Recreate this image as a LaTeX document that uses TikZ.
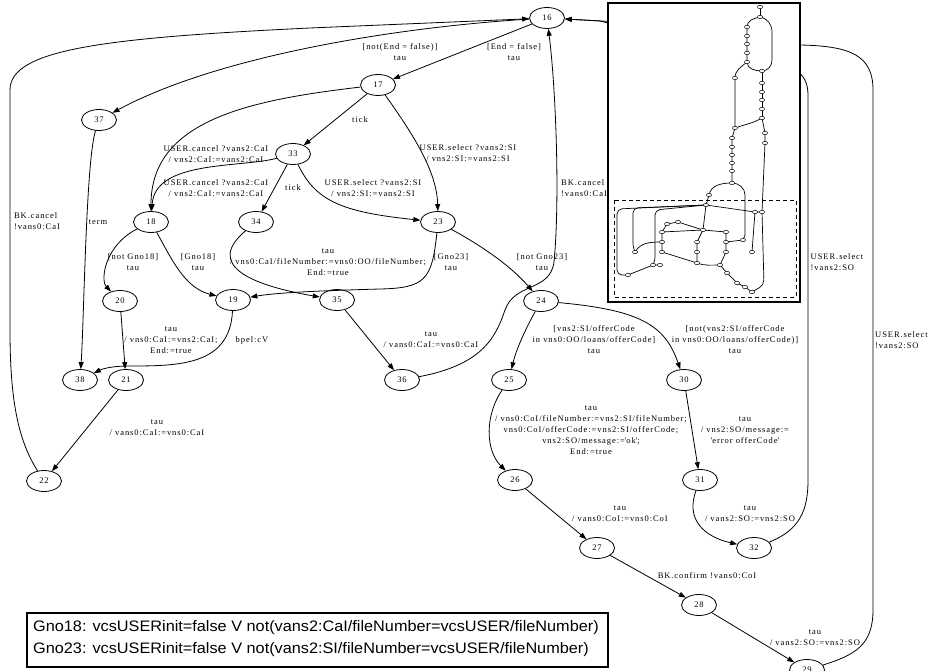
\documentclass[tikz,border=0pt]{standalone}
\usepackage{fontspec}
\setmainfont{Liberation Serif}
\newfontfamily\gfont[LetterSpace=11]{Liberation Serif}
\newfontfamily\lfont[FakeStretch=1.07]{Liberation Sans}
\usetikzlibrary{shapes.geometric,arrows.meta}
\newcommand{\sq}{\textquotesingle}
\begin{document}
\begin{tikzpicture}[x=1pt,y=-1pt,
  st/.style={ellipse,draw,line width=0.8pt,minimum width=35pt,minimum height=21pt,inner sep=0pt,font=\gfont\fontsize{8.5}{10}\selectfont},
  lbl/.style={align=center,inner sep=0pt,font=\gfont\fontsize{8.5}{11}\selectfont},
  lbll/.style={align=left,inner sep=0pt,font=\gfont\fontsize{8.5}{11}\selectfont},
  arr/.style={draw,line width=0.8pt,-{Triangle[length=7pt,width=5pt]}},
  mini/.style={ellipse,draw,line width=0.5pt,minimum width=5pt,minimum height=3.5pt,inner sep=0pt,fill=white},
  mline/.style={line width=0.7pt}
]
\useasboundingbox (0,0) rectangle (928,671);
\fill[white] (0,0) rectangle (928,671);

% states
\node[st] (n16) at (547,18) {16};
\node[st] (n17) at (378,85) {17};
\node[st] (n37) at (99,120) {37};
\node[st] (n33) at (293,154) {33};
\node[st] (n18) at (151,222) {18};
\node[st] (n34) at (256,222) {34};
\node[st] (n23) at (438,222) {23};
\node[st] (n20) at (120,301) {20};
\node[st] (n19) at (233,300) {19};
\node[st] (n35) at (337,300) {35};
\node[st] (n24) at (541,301) {24};
\node[st] (n38) at (80,380) {38};
\node[st] (n21) at (126,380) {21};
\node[st] (n36) at (402,380) {36};
\node[st] (n25) at (509,380) {25};
\node[st] (n30) at (684,380) {30};
\node[st] (n22) at (44,481) {22};
\node[st] (n26) at (515,480) {26};
\node[st] (n31) at (700,480) {31};
\node[st] (n27) at (597,548) {27};
\node[st] (n32) at (754,548) {32};
\node[st] (n28) at (699,605) {28};
\node[st] (n29) at (807,670) {29};

% transitions
\draw[arr] (n16) .. controls (400,27) and (220,55) .. (n37);
\draw[arr] (n16) -- (n17);
\draw[arr] (n22) .. controls (18,440) and (10,400) .. (10,330) -- (10,90) .. controls (10,50) and (100,38) .. (310,28) -- (n16);
\draw[arr] (n17) -- (n33);
\draw[arr] (n17) .. controls (250,100) and (151,120) .. (n18);
\draw[arr] (n33) .. controls (240,168) and (155,160) .. (n18);
\draw[arr] (n33) -- (n34);
\draw[arr] (n33) .. controls (315,200) and (340,212) .. (n23);
\draw[arr] (n17) .. controls (410,130) and (437,170) .. (n23);
\draw[arr] (n37) .. controls (86,160) and (84,320) .. (n38);
\draw[arr] (n18) .. controls (105,245) and (100,280) .. (n20);
\draw[arr] (n18) .. controls (172,260) and (185,288) .. (n19);
\draw[arr] (n34) .. controls (205,265) and (250,285) .. (n35);
\draw[arr] (n23) .. controls (432,280) and (425,288) .. (380,289) .. controls (310,291) and (275,293) .. (n19);
\draw[arr] (n23) .. controls (480,245) and (510,265) .. (n24);
\draw[arr] (n20) -- (n21);
\draw[arr] (n19) .. controls (230,365) and (180,366) .. (130,366) .. controls (108,366) and (100,370) .. (n38);
\draw[arr] (n21) -- (n22);
\draw[arr] (n35) -- (n36);
\draw[arr] (n36) .. controls (480,365) and (495,340) .. (505,310) .. controls (515,282) and (550,292) .. (554,262) .. controls (560,200) and (556,90) .. (n16);
\draw[arr] (n24) .. controls (525,330) and (516,350) .. (n25);
\draw[arr] (n24) .. controls (640,310) and (665,325) .. (n30);
\draw[arr] (n25) .. controls (485,415) and (485,450) .. (n26);
\draw[arr] (n30) -- (n31);
\draw[arr] (n26) -- (n27);
\draw[arr] (n31) .. controls (685,520) and (705,537) .. (n32);
\draw[arr] (n32) .. controls (800,530) and (808,510) .. (808,480) -- (808,95) .. controls (808,70) and (790,65) .. (760,60) -- (600,21) -- (n16);
\draw[arr] (n29) .. controls (855,655) and (873,645) .. (873,610) -- (873,90) .. controls (873,55) and (850,46) .. (800,45) -- (620,22) -- (n16);
\draw[arr] (n27) -- (n28);
\draw[arr] (n28) -- (n29);

% labels
\node[lbl] (l1) at (400,52) {[not(End = false)]\\tau};
\node[lbl] (l2) at (514,52) {[End = false]\\tau};
\node[lbl] (l3) at (360,120) {tick};
\node[lbl] (l4) at (468,153) {USER.select ?vans2:SI\\/ vns2:SI:=vans2:SI};
\node[lbl] (l5) at (216,154) {USER.cancel ?vans2:CaI\\/ vns2:CaI:=vans2:CaI};
\node[lbl] (l6) at (216,188) {USER.cancel ?vans2:CaI\\/ vns2:CaI:=vans2:CaI};
\node[lbl] (l7) at (293,188) {tick};
\node[lbl] (l8) at (373,188) {USER.select ?vans2:SI\\/ vns2:SI:=vans2:SI};
\node[lbl] (l9) at (98,222) {term};
\node[lbll] (l10) at (37,221) {BK.cancel\\!vans0:CaI};
\node[lbl] (l11) at (133,262) {[not Gno18]\\tau};
\node[lbl] (l12) at (198,262) {[Gno18]\\tau};
\node[lbl] (l13) at (328,262) {tau\\/ vns0:CaI/fileNumber:=vns0:OO/fileNumber;\\End:=true};
\node[lbl] (l14) at (451,262) {[Gno23]\\tau};
\node[lbl] (l15) at (542,262) {[not Gno23]\\tau};
\node[lbll] (l16) at (584,188) {BK.cancel\\!vans0:CaI};
\node[lbl] (l17) at (171,340) {tau\\/ vns0:CaI:=vns2:CaI;\\End:=true};
\node[lbl] (l18) at (252,340) {bpel:cV};
\node[lbl] (l19) at (157,428) {tau\\/ vans0:CaI:=vns0:CaI};
\node[lbl] (l20) at (431,340) {tau\\/ vans0:CaI:=vns0:CaI};
\node[lbl] (l21) at (594,340) {[vns2:SI/offerCode\\in vns0:OO/loans/offerCode]\\tau};
\node[lbl] (l22) at (735,340) {[not(vns2:SI/offerCode\\in vns0:OO/loans/offerCode)]\\tau};
\node[lbl] (l23) at (591,430) {tau\\/ vns0:CoI/fileNumber:=vns2:SI/fileNumber;\\vns0:CoI/offerCode:=vns2:SI/offerCode;\\vns2:SO/message:=\sq ok\sq;\\End:=true};
\node[lbl] (l24) at (745,430) {tau\\/ vns2:SO/message:=\\\sq error offerCode\sq};
\node[lbl] (l25) at (620,514) {tau\\/ vans0:CoI:=vns0:CoI};
\node[lbl] (l26) at (750,514) {tau\\/ vans2:SO:=vns2:SO};
\node[lbl] (l27) at (707,576) {BK.confirm !vans0:CoI};
\node[lbl] (l28) at (815,638) {tau\\/ vans2:SO:=vns2:SO};
\node[lbll] (l29) at (837,262) {USER.select\\!vans2:SO};
\node[lbll,anchor=west] (l30) at (875,340) {USER.select\\!vans2:SO};

% overview inset
\fill[white] (608,3) rectangle (800,302);
\draw[line width=2pt] (608,3) rectangle (800,302);
\draw[line width=0.9pt,dash pattern=on 4pt off 3pt] (614,200) rectangle (796,297);
\foreach \i/\x/\y in {1/760/7,2/760/17,3/747/27,4/747/36,5/747/44,6/747/53,7/747/62,8/762/71,9/735/78,
  10/762/83,11/762/92,12/762/100,13/762/109,14/762/118,15/735/128,16/765/133,17/765/143,
  18/732/138,19/732/147,20/732/155,21/732/163,22/732/171,23/732/183,24/709/195,25/706/205,
  26/743/240,27/755/212,28/762/212,30/628/275,31/635/252,32/653/265,33/660/265,
  34/678/222,35/667/224,36/703/230,37/662/232,38/662/242,39/662/252,40/726/232,41/726/242,42/726/252,
  43/697/242,44/697/252,45/697/263,46/752/252,47/720/265,48/727/273,49/737/283,50/745/287,51/752/292}
  {\coordinate (q\i) at (\x,\y);}
\begin{scope}[mline]
\draw (q1) -- (q2);
\draw (q2) to[out=190,in=90] (q3) -- (q4) -- (q5) -- (q6) -- (q7) to[out=-90,in=180] (q8);
\draw (q2) to[out=-10,in=90] (772,32) -- (772,60) to[out=-90,in=0] (q8);
\draw (q7) to[out=220,in=90] (q9) -- (q15);
\draw (q8) -- (q10) -- (q11) -- (q12) -- (q13) -- (q14);
\draw (q14) to[out=210,in=20] (q15);
\draw (q14) -- (q16) -- (q17) -- (q28);
\draw (q15) -- (q18) -- (q19) -- (q20) -- (q21) -- (q22) -- (q23);
\draw (q23) to[out=180,in=80] (q24) -- (q25);
\draw (q23) to[out=0,in=90] (745,195) -- (745,235) -- (q26);
\draw[rounded corners=5pt] (q25) -- (617,209) -- (617,275) -- (q30);
\draw[rounded corners=5pt] (q25) -- (633,208) -- (633,248) -- (q31);
\draw[rounded corners=5pt] (q25) -- (655,210) -- (655,262) -- (q32);
\draw (q25) -- (q27) -- (q28);
\draw (q27) -- (q46);
\draw (q25) -- (q36);
\draw (q36) -- (q34) -- (q35) -- (q37);
\draw (q36) -- (q37) -- (q38) -- (q39);
\draw (q36) -- (q40) -- (q41) -- (q42);
\draw (q36) -- (q43) -- (q44) -- (q45);
\draw (q45) to[out=-20,in=180] (q47);
\draw (q42) -- (q47) -- (q48) -- (q49) -- (q50) -- (q51);
\draw[rounded corners=5pt] (q28) -- (764,285) -- (q51);
\draw (q30) -- (q32) -- (q33);
\draw (q31) to[out=60,in=180] (q38);
\draw (q41) -- (q26);
\draw (q39) -- (q45);
\end{scope}
\foreach \i in {1,2,3,4,5,6,7,8,9,10,11,12,13,14,15,16,17,18,19,20,21,22,23,24,25,26,27,28,30,31,32,33,34,35,36,37,38,39,40,41,42,43,44,45,46,47,48,49,50,51}
  {\node[mini] (m\i) at (q\i) {};}

% legend
\draw[line width=1.2pt] (27,613) rectangle (608,667);
\node[anchor=west,inner sep=0pt,font=\lfont\fontsize{15.2}{17}\selectfont] (g18) at (33,628) {Gno18: vcsUSERinit=false V not(vans2:CaI/fileNumber=vcsUSER/fileNumber)};
\node[anchor=west,inner sep=0pt,font=\lfont\fontsize{15.2}{17}\selectfont] (g23) at (33,650) {Gno23: vcsUSERinit=false V not(vans2:SI/fileNumber=vcsUSER/fileNumber)};
\end{tikzpicture}
\end{document}
